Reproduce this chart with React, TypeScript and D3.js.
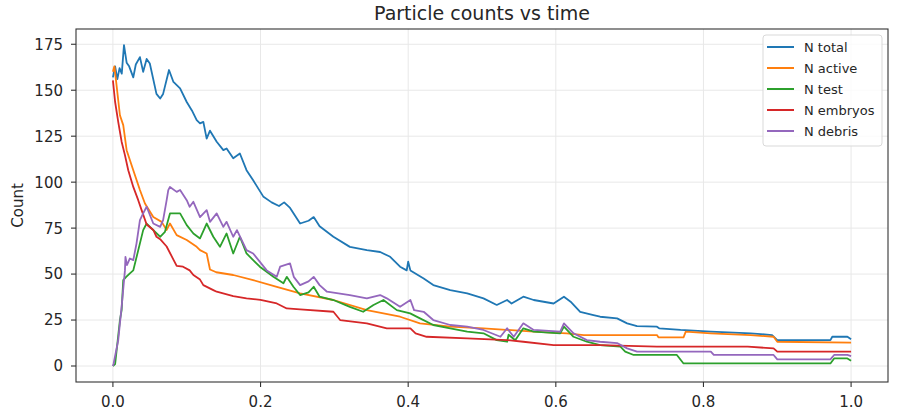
import React from "react";
import * as d3 from "d3";

type Pt = [number, number];

// time (0..1), count
const nTotal: Pt[] = [
  [0, 157], [0.003, 163], [0.006, 156], [0.009, 162], [0.012, 159], [0.015, 174.5],
  [0.0186, 165], [0.022, 163], [0.0276, 157], [0.031, 164], [0.0366, 168], [0.041, 160],
  [0.0457, 167], [0.05, 164.5], [0.059, 148], [0.064, 145.5], [0.068, 148], [0.076, 161],
  [0.082, 154.5], [0.091, 151], [0.1, 143.6], [0.107, 139], [0.1135, 133.7], [0.118, 132],
  [0.1225, 132.8], [0.127, 123.7], [0.1315, 128], [0.1406, 122], [0.1496, 117.4], [0.154, 118.3],
  [0.163, 113], [0.172, 115.6], [0.181, 106.5], [0.19, 101], [0.204, 92], [0.215, 89],
  [0.225, 87], [0.232, 89], [0.24, 86], [0.2536, 77.5], [0.265, 79], [0.272, 81],
  [0.28, 76], [0.2987, 70.3], [0.321, 64.8], [0.344, 63], [0.362, 62], [0.3756, 59.4],
  [0.389, 54], [0.398, 52], [0.4, 56.7], [0.403, 52], [0.421, 47.6], [0.434, 44],
  [0.457, 41.3], [0.48, 39.5], [0.502, 36.8], [0.52, 33.2], [0.534, 35.9], [0.54, 34],
  [0.556, 37.7], [0.57, 35.9], [0.597, 34], [0.611, 37.7], [0.62, 35], [0.633, 29.5],
  [0.651, 27.7], [0.66, 26.8], [0.683, 25.9], [0.6966, 23.2], [0.71, 21.7], [0.737, 21.4],
  [0.74, 20.5], [0.769, 19.6], [0.81, 18.7], [0.864, 17.8], [0.893, 16.8], [0.9, 14.1],
  [0.972, 14.1], [0.9745, 15.9], [0.995, 15.9], [1.0, 14.5],
];

const nActive: Pt[] = [
  [0, 160], [0.002, 163], [0.004, 156], [0.0095, 136.4], [0.014, 131], [0.0186, 117.4],
  [0.0276, 106.5], [0.0366, 95.7], [0.0434, 88.4], [0.0547, 81], [0.066, 78.4], [0.0728, 74],
  [0.0773, 77.5], [0.0864, 71.2], [0.1, 68.5], [0.1135, 64.8], [0.118, 63], [0.127, 61.2],
  [0.1315, 52.5], [0.14, 51], [0.163, 49.5], [0.19, 46.7], [0.222, 43.1], [0.2536, 39.5],
  [0.2987, 35.9], [0.344, 30.4], [0.389, 26.8], [0.416, 23.2], [0.457, 21.4], [0.502, 20.5],
  [0.57, 18.7], [0.615, 17.8], [0.638, 16.8], [0.737, 16.8], [0.739, 15.6], [0.773, 15.6],
  [0.776, 18.7], [0.81, 17.8], [0.864, 16.8], [0.895, 15.9], [0.9, 13.2], [1.0, 12.7],
];

const nTest: Pt[] = [
  [0, 0], [0.003, 1], [0.0095, 25], [0.0118, 30.4], [0.014, 46.7], [0.018, 48.5],
  [0.023, 50.4], [0.0276, 52], [0.0366, 66.7], [0.041, 73.9], [0.0457, 77.5], [0.0547, 73.9],
  [0.064, 70.3], [0.0705, 73], [0.0773, 83], [0.091, 83], [0.1, 76.6], [0.109, 72.1],
  [0.118, 69.4], [0.127, 77.5], [0.136, 70.3], [0.145, 64.8], [0.154, 72.1], [0.163, 61.2],
  [0.172, 70.3], [0.181, 61.2], [0.199, 54], [0.2174, 48.5], [0.231, 45], [0.2355, 48.5],
  [0.2445, 43.1], [0.2536, 38.6], [0.265, 40], [0.272, 43.1], [0.28, 37.7], [0.2987, 35.9],
  [0.321, 32.2], [0.339, 29.5], [0.353, 33.2], [0.3665, 35.9], [0.3846, 30.4], [0.4027, 28.6],
  [0.416, 25.9], [0.434, 22.3], [0.457, 20.5], [0.48, 18.7], [0.502, 17.8], [0.52, 14.1],
  [0.534, 13.2], [0.536, 17], [0.545, 14], [0.556, 20.5], [0.57, 18.7], [0.606, 17.8],
  [0.611, 21.4], [0.624, 15.9], [0.642, 13.2], [0.66, 11.4], [0.6875, 10.5], [0.694, 7.8],
  [0.7055, 6], [0.764, 6], [0.773, 1.4], [0.972, 1.4], [0.977, 4.1], [0.995, 4.1], [1.0, 2.9],
];

const nEmbryos: Pt[] = [
  [0, 155.4], [0.003, 143.6], [0.0072, 132.8], [0.0118, 122], [0.0163, 114.7], [0.0208, 106.5],
  [0.0276, 97.4], [0.0343, 90.2], [0.0389, 84.8], [0.0457, 77], [0.0547, 74], [0.059, 70.3],
  [0.064, 69], [0.0728, 65], [0.0818, 58], [0.0864, 54.5], [0.095, 54], [0.104, 52],
  [0.109, 49.5], [0.118, 47], [0.1225, 44], [0.136, 41.3], [0.1406, 40.4], [0.163, 38],
  [0.181, 36.8], [0.2, 36], [0.222, 34], [0.2355, 31.3], [0.2536, 30.8], [0.2987, 29.5],
  [0.3078, 25], [0.344, 23.2], [0.371, 20.5], [0.403, 20.5], [0.41, 17.8], [0.425, 15.9],
  [0.48, 15], [0.534, 14.1], [0.556, 13.2], [0.597, 11.4], [0.66, 11.4], [0.737, 10.5],
  [0.86, 10.5], [0.895, 9.6], [0.9, 7.8], [1.0, 7.8],
];

const nDebris: Pt[] = [
  [0, 0], [0.001, 1.4], [0.0072, 14], [0.0118, 32.2], [0.0163, 52], [0.017, 59.4],
  [0.019, 54.9], [0.023, 58.5], [0.0276, 57.6], [0.032, 66.7], [0.0366, 79.3], [0.041, 83],
  [0.0457, 86.6], [0.0547, 77.5], [0.064, 75.7], [0.068, 79.3], [0.0728, 90.2], [0.075, 95.7],
  [0.0773, 97.4], [0.0864, 94.7], [0.091, 95.7], [0.1, 90.2], [0.104, 86.6], [0.109, 89.3],
  [0.118, 81], [0.127, 84.8], [0.1315, 78.4], [0.1406, 83], [0.1496, 75.7], [0.154, 78.4],
  [0.163, 70.3], [0.168, 73.9], [0.181, 63], [0.19, 61.2], [0.2084, 52], [0.222, 48.5],
  [0.2265, 54], [0.24, 55.8], [0.245, 48.5], [0.2536, 44], [0.265, 46], [0.272, 48.5],
  [0.28, 44], [0.29, 40.4], [0.321, 38.6], [0.344, 36.8], [0.362, 38.6], [0.371, 36.8],
  [0.389, 32.2], [0.403, 35.9], [0.408, 30.4], [0.421, 29.5], [0.434, 25], [0.457, 22.3],
  [0.48, 21.4], [0.502, 19.6], [0.525, 15.9], [0.534, 20.5], [0.543, 15.9], [0.556, 23.2],
  [0.57, 19.6], [0.606, 18.7], [0.611, 23.2], [0.624, 17.8], [0.642, 14.1], [0.66, 13.2],
  [0.683, 12.5], [0.6966, 9.6], [0.71, 7.8], [0.81, 7.8], [0.814, 6], [0.895, 6],
  [0.9, 3.6], [0.972, 3.6], [0.977, 6], [0.995, 6], [1.0, 5.4],
];

const seriesNames = ["N total", "N active", "N test", "N embryos", "N debris"];
const seriesData = [nTotal, nActive, nTest, nEmbryos, nDebris];
const colors = ["#1f77b4", "#ff7f0e", "#2ca02c", "#d62728", "#9467bd"];
const xTicks = [0, 0.2, 0.4, 0.6, 0.8, 1.0];
const yTicks = [0, 25, 50, 75, 100, 125, 150, 175];

const W = 898;
const H = 413;
const left = 76;
const right = 888;
const top = 29;
const bottom = 382;
const font = "'DejaVu Sans', sans-serif";

const App: React.FC = () => {
  const x = d3.scaleLinear().domain([-0.05, 1.05]).range([left, right]);
  const y = d3.scaleLinear().domain([-8.7, 183.3]).range([bottom, top]);
  const line = d3
    .line<Pt>()
    .x((d) => x(d[0]))
    .y((d) => y(d[1]));

  return (
    <svg
      width={W}
      height={H}
      style={{ position: "absolute", left: 0, top: 0, background: "#fff" }}
      fontFamily={font}
    >
      {/* grid */}
      {xTicks.map((t) => (
        <line key={"gx" + t} x1={x(t)} x2={x(t)} y1={top} y2={bottom} stroke="#e8e8e8" strokeWidth={1} />
      ))}
      {yTicks.map((t) => (
        <line key={"gy" + t} x1={left} x2={right} y1={y(t)} y2={y(t)} stroke="#e8e8e8" strokeWidth={1} />
      ))}

      {/* series */}
      {seriesData.map((s, i) => (
        <path key={seriesNames[i]} d={line(s) || ""} fill="none" stroke={colors[i]} strokeWidth={1.8} strokeLinejoin="round" />
      ))}

      {/* frame */}
      <rect x={left} y={top} width={right - left} height={bottom - top} fill="none" stroke="#333" strokeWidth={1.1} />

      {/* x axis */}
      {xTicks.map((t) => (
        <g key={"xt" + t}>
          <line x1={x(t)} x2={x(t)} y1={bottom} y2={bottom + 5} stroke="#333" strokeWidth={1.1} />
          <text x={x(t)} y={407} textAnchor="middle" fontSize={15} fill="#262626">
            {d3.format(".1f")(t)}
          </text>
        </g>
      ))}

      {/* y axis */}
      {yTicks.map((t) => (
        <g key={"yt" + t}>
          <line x1={left - 5} x2={left} y1={y(t)} y2={y(t)} stroke="#333" strokeWidth={1.1} />
          <text x={63} y={y(t)} dy="0.36em" textAnchor="end" fontSize={15} fill="#262626">
            {t}
          </text>
        </g>
      ))}

      <text
        transform={`translate(23,${(top + bottom) / 2}) rotate(-90)`}
        textAnchor="middle"
        fontSize={15}
        fill="#262626"
      >
        Count
      </text>

      <text x={(left + right) / 2} y={20} textAnchor="middle" fontSize={19} fill="#262626">
        Particle counts vs time
      </text>

      {/* legend */}
      <g>
        <rect x={763} y={35} width={119} height={111} rx={3} fill="#fff" fillOpacity={0.8} stroke="#d9d9d9" />
        {seriesNames.map((name, i) => (
          <g key={"lg" + name} transform={`translate(0,${47 + i * 21})`}>
            <line x1={767} x2={794} y1={0} y2={0} stroke={colors[i]} strokeWidth={2} />
            <text x={804} y={0} dy="0.36em" fontSize={13} fill="#262626">
              {name}
            </text>
          </g>
        ))}
      </g>
    </svg>
  );
};

export default App;
